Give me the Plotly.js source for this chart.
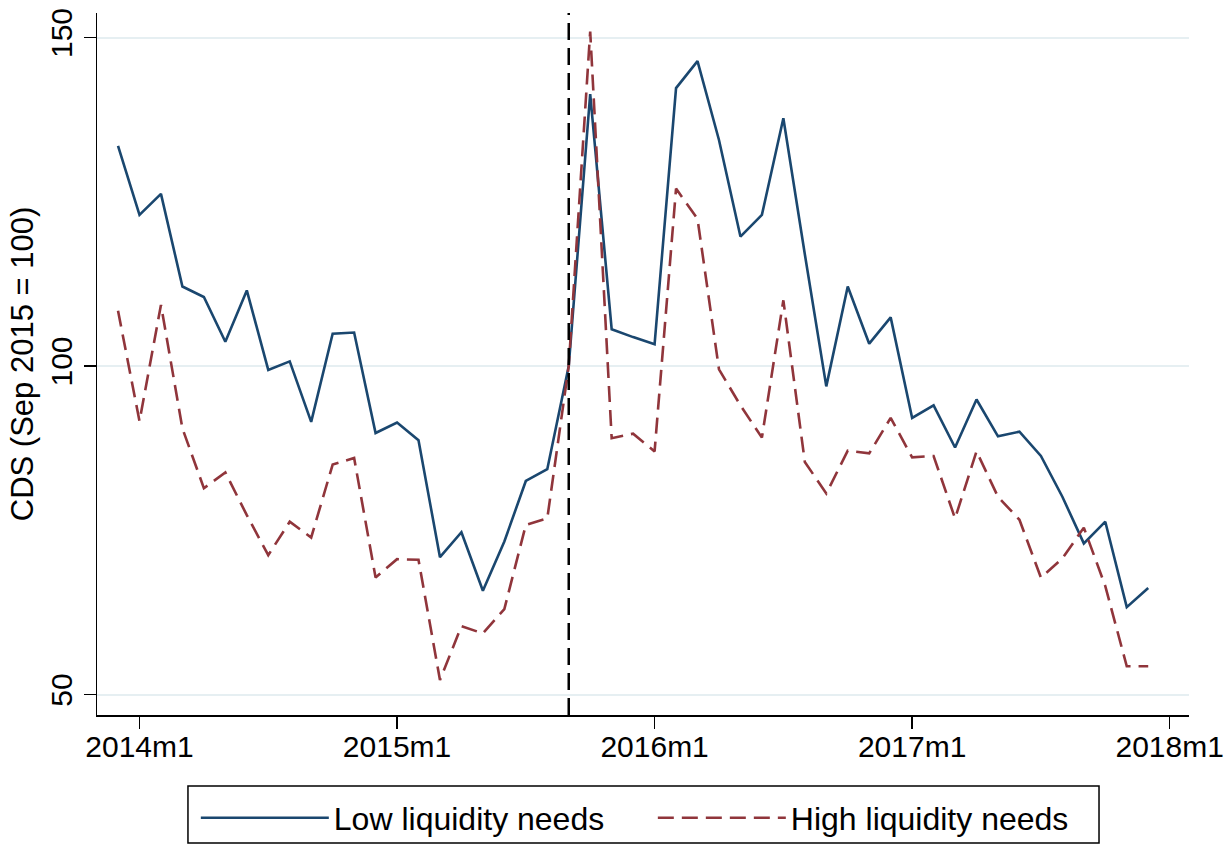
<!DOCTYPE html>
<html>
<head>
<meta charset="utf-8">
<script src="https://cdn.plot.ly/plotly-3.0.1.min.js"></script>
<style>
  html, body { margin: 0; padding: 0; background: #ffffff; }
  #chart { width: 1227px; height: 844px; }
</style>
</head>
<body>
<div id="chart"></div>
<script>
// Monthly observations (Stata-style month labels)
const months = [
  "2013m12",
  "2014m1","2014m2","2014m3","2014m4","2014m5","2014m6","2014m7","2014m8","2014m9","2014m10","2014m11","2014m12",
  "2015m1","2015m2","2015m3","2015m4","2015m5","2015m6","2015m7","2015m8","2015m9","2015m10","2015m11","2015m12",
  "2016m1","2016m2","2016m3","2016m4","2016m5","2016m6","2016m7","2016m8","2016m9","2016m10","2016m11","2016m12",
  "2017m1","2017m2","2017m3","2017m4","2017m5","2017m6","2017m7","2017m8","2017m9","2017m10","2017m11","2017m12"
];

const lowLiquidity = [
  133.5,
  123.0, 126.2, 112.1, 110.5, 103.7, 111.5, 99.4, 100.7, 91.5, 104.9, 105.1, 89.8,
  91.4, 88.7, 70.9, 74.7, 65.8, 73.3, 82.5, 84.3, 100.0, 141.4, 105.6, 104.4,
  103.3, 142.3, 146.4, 134.4, 119.7, 123.0, 137.7, 117.0, 96.9, 112.1, 103.4, 107.4,
  92.1, 94.0, 87.6, 94.9, 89.3, 90.0, 86.3, 80.1, 73.0, 76.3, 63.3, 66.2
];

const highLiquidity = [
  108.4,
  91.6, 109.3, 90.5, 81.4, 83.8, 77.3, 71.2, 76.3, 73.9, 85.0, 86.0, 67.8,
  70.6, 70.5, 52.2, 60.4, 59.3, 63.0, 75.8, 76.8, 100.0, 150.9, 89.0, 89.7,
  87.0, 127.0, 122.4, 99.5, 94.0, 89.1, 110.0, 85.4, 80.6, 87.1, 86.7, 92.1,
  86.1, 86.3, 76.8, 87.0, 80.1, 76.6, 67.8, 70.7, 75.4, 66.5, 54.3, 54.3
];

const xTickLabels = ["2014m1", "2015m1", "2016m1", "2017m1", "2018m1"];
const yTickValues = [50, 100, 150];
const eventMonth = "2015m9";
const seriesNames = ["Low liquidity needs", "High liquidity needs"];
const yTitle = "CDS (Sep 2015 = 100)";

// Convert "YYYYmM" to months since 2014m1 (Stata-like monthly index)
function monthIndex(s) {
  const parts = s.split("m");
  return (parseInt(parts[0], 10) - 2014) * 12 + (parseInt(parts[1], 10) - 1);
}
const xs = months.map(monthIndex);
const xTickVals = xTickLabels.map(monthIndex);

const FONT = "Liberation Sans, Arial, Helvetica, sans-serif";

const traces = [
  {
    x: xs, y: lowLiquidity, type: "scatter", mode: "lines",
    name: seriesNames[0],
    line: { color: "#1a476f", width: 2.6 }
  },
  {
    x: xs, y: highLiquidity, type: "scatter", mode: "lines",
    name: seriesNames[1],
    line: { color: "#90353b", width: 2.6, dash: "16px,8px" }
  }
];

const layout = {
  width: 1227, height: 844,
  paper_bgcolor: "#ffffff", plot_bgcolor: "#ffffff",
  margin: { l: 97, r: 38, t: 13, b: 129 },
  font: { family: FONT, color: "#000000", size: 30 },
  showlegend: true,
  xaxis: {
    range: [-1.98, 48.9],
    tickmode: "array", tickvals: xTickVals, ticktext: xTickLabels,
    ticks: "outside", ticklen: 12, tickwidth: 1.5, tickcolor: "#000000",
    ticklabelstandoff: -8,
    showline: true, linecolor: "#000000", linewidth: 1.5,
    showgrid: false, zeroline: false,
    tickfont: { family: FONT, size: 30, color: "#000000" },
    automargin: false,
    fixedrange: true
  },
  yaxis: {
    range: [46.88, 153.73],
    tickmode: "array", tickvals: yTickValues,
    ticks: "outside", ticklen: 12, tickwidth: 1.5, tickcolor: "#000000",
    tickangle: -90,
    showline: true, linecolor: "#000000", linewidth: 1.5,
    showgrid: true, gridcolor: "#e6eff2", gridwidth: 2,
    zeroline: false,
    tickfont: { family: FONT, size: 30, color: "#000000" },
    title: { text: yTitle, font: { family: FONT, size: 31, color: "#000000" }, standoff: 1 },
    automargin: false,
    fixedrange: true
  },
  legend: {
    orientation: "h",
    xref: "paper", yref: "container",
    x: 0.509, xanchor: "center",
    y: 0.0308, yanchor: "middle",
    bgcolor: "rgba(0,0,0,0)",
    borderwidth: 0,
    font: { family: FONT, size: 32, color: "#000000" },
    itemwidth: 128,
    entrywidth: 314,
    traceorder: "normal"
  },
  shapes: [
    {
      type: "line", xref: "x", yref: "paper",
      x0: monthIndex(eventMonth), x1: monthIndex(eventMonth), y0: 0, y1: 1,
      line: { color: "#000000", width: 2.5, dash: "17px,8px" }
    },
    {
      type: "rect", xref: "paper", yref: "paper",
      x0: 0.0833, x1: 0.9176, y0: -0.1011, y1: -0.1823,
      line: { color: "#000000", width: 1.5 },
      fillcolor: "rgba(0,0,0,0)"
    }
  ]
};

Plotly.newPlot("chart", traces, layout, { displayModeBar: false, staticPlot: true });
</script>
</body>
</html>
